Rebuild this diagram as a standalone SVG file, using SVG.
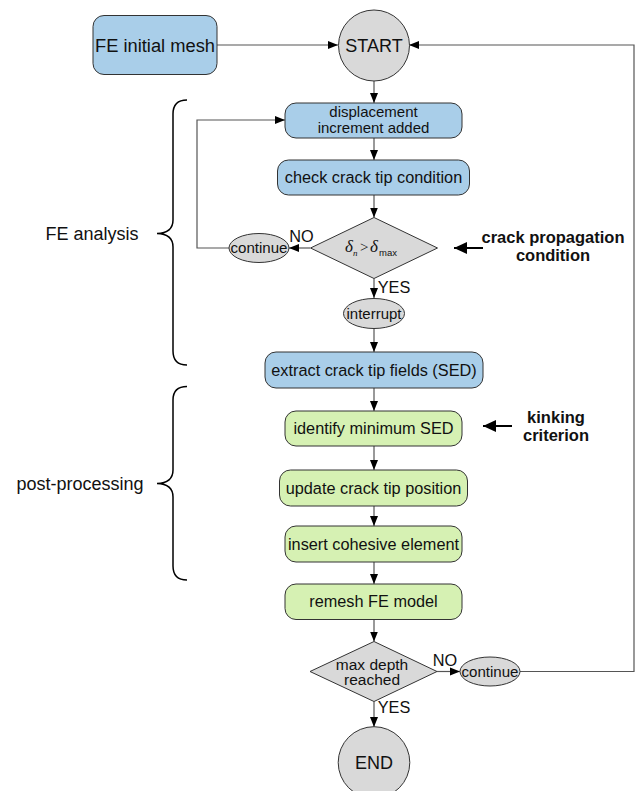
<svg xmlns="http://www.w3.org/2000/svg" width="636" height="791" viewBox="0 0 636 791">
<style>
.blue{fill:#a9cee9;stroke:#333;stroke-width:1}
.green{fill:#d6f1b3;stroke:#333;stroke-width:1}
.grey{fill:#d9d9d9;stroke:#333;stroke-width:1}
text{font-family:"Liberation Sans",Arial,sans-serif;fill:#111;text-anchor:middle}
.t16{font-size:16.3px}
.t15{font-size:15.5px}
.t18{font-size:18px}
.t14{font-size:15px}
.bold{font-size:16.5px;font-weight:bold}
.conn{fill:none;stroke:#555;stroke-width:1.2}
.brace{fill:none;stroke:#000;stroke-width:1.5}
.side{fill:none;stroke:#000;stroke-width:2}
.math{font-family:"Liberation Serif","Times New Roman",serif;font-style:italic}
</style>
<defs>
<marker id="arr" markerUnits="userSpaceOnUse" markerWidth="10" markerHeight="10" viewBox="0 0 10 10" refX="10" refY="5" orient="auto">
<path d="M0,1 L10,5 L0,9 Z" fill="#000"/>
</marker>
<marker id="arrBig" markerUnits="userSpaceOnUse" markerWidth="13" markerHeight="13" viewBox="0 0 13 13" refX="13" refY="6.5" orient="auto">
<path d="M0,0.5 L13,6.5 L0,12.5 Z" fill="#000"/>
</marker>
</defs>

<g id="connectors">
<path class="conn" d="M217,45 H338" marker-end="url(#arr)"/>
<path class="conn" d="M520,671.5 H634 V45 H409" marker-end="url(#arr)"/>
<path class="conn" d="M374,81 V103" marker-end="url(#arr)"/>
<path class="conn" d="M374,138 V160" marker-end="url(#arr)"/>
<path class="conn" d="M374,195 V217.5" marker-end="url(#arr)"/>
<path class="conn" d="M310,248 H289" marker-end="url(#arr)"/>
<path class="conn" d="M229,248 H197 V120 H285" marker-end="url(#arr)"/>
<path class="conn" d="M374,278.5 V298" marker-end="url(#arr)"/>
<path class="conn" d="M374,328.5 V352" marker-end="url(#arr)"/>
<path class="conn" d="M374,388 V411" marker-end="url(#arr)"/>
<path class="conn" d="M374,446 V470" marker-end="url(#arr)"/>
<path class="conn" d="M374,506 V526" marker-end="url(#arr)"/>
<path class="conn" d="M374,562 V584" marker-end="url(#arr)"/>
<path class="conn" d="M374,619.5 V641.5" marker-end="url(#arr)"/>
<path class="conn" d="M437,671.5 H460" marker-end="url(#arr)"/>
<path class="conn" d="M374,701.5 V727" marker-end="url(#arr)"/>
<path class="side" d="M483,248 H454" marker-end="url(#arrBig)"/>
<path class="side" d="M512,426 H483" marker-end="url(#arrBig)"/>
<text class="t16" x="301.5" y="242">NO</text>
<text class="t16" x="394" y="292.5">YES</text>
<text class="t16" x="445" y="665.5">NO</text>
<text class="t16" x="394" y="713">YES</text>
</g>

<g id="fe-initial-mesh">
<rect class="blue" x="93" y="15.5" width="124" height="59" rx="11"/>
<text class="t18" x="155" y="51.5" textLength="120" lengthAdjust="spacingAndGlyphs">FE initial mesh</text>
</g>

<g id="start">
<circle class="grey" cx="374" cy="45.5" r="35.5"/>
<text class="t18" x="374" y="51.5">START</text>
</g>

<g id="displacement">
<rect class="blue" x="285" y="103" width="177" height="35" rx="11"/>
<text class="t14" x="373.5" y="116.5">displacement</text>
<text class="t14" x="373.5" y="132.5">increment added</text>
</g>

<g id="check-crack">
<rect class="blue" x="277.5" y="160" width="192" height="35" rx="11"/>
<text class="t16" x="373.5" y="183">check crack tip condition</text>
</g>

<g id="crack-condition">
<polygon class="grey" points="374,217.5 437.5,248 374,278.5 310.5,248"/>
<text class="math" x="345" y="252" style="font-size:17px;text-anchor:start">δ</text>
<text class="math" x="353" y="255.5" style="font-size:9px;text-anchor:start">n</text>
<text x="360" y="252" style="font-family:'Liberation Serif',serif;font-size:15px;text-anchor:start">&gt;</text>
<text class="math" x="370" y="252" style="font-size:17px;text-anchor:start">δ</text>
<text x="379" y="255.5" style="font-size:9.5px;text-anchor:start">max</text>
</g>

<g id="continue-1">
<ellipse class="grey" cx="259" cy="248" rx="30" ry="14.5"/>
<text class="t14" x="259" y="253" textLength="57" lengthAdjust="spacingAndGlyphs">continue</text>
</g>

<g id="interrupt">
<ellipse class="grey" cx="374" cy="313.5" rx="30.5" ry="15"/>
<text class="t14" x="374" y="318.5" textLength="55" lengthAdjust="spacingAndGlyphs">interrupt</text>
</g>

<g id="extract">
<rect class="blue" x="265" y="352" width="218" height="36" rx="11"/>
<text class="t16" x="374" y="376">extract crack tip fields (SED)</text>
</g>

<g id="identify">
<rect class="green" x="285" y="411" width="177" height="35" rx="11"/>
<text class="t16" x="373.5" y="434">identify minimum SED</text>
</g>

<g id="update">
<rect class="green" x="279.5" y="470" width="188" height="36" rx="11"/>
<text class="t16" x="373.5" y="494">update crack tip position</text>
</g>

<g id="insert">
<rect class="green" x="285" y="526" width="177" height="36" rx="11"/>
<text class="t16" x="373.5" y="550">insert cohesive element</text>
</g>

<g id="remesh">
<rect class="green" x="285" y="584" width="177" height="35.5" rx="11"/>
<text class="t16" x="373.5" y="607">remesh FE model</text>
</g>

<g id="max-depth">
<polygon class="grey" points="374,641.5 437,671.5 374,701.5 310,671.5"/>
<text class="t15" x="372" y="669.5">max depth</text>
<text class="t15" x="372" y="685">reached</text>
</g>

<g id="continue-2">
<ellipse class="grey" cx="490" cy="671.5" rx="30" ry="14.5"/>
<text class="t14" x="490" y="676.5" textLength="57" lengthAdjust="spacingAndGlyphs">continue</text>
</g>

<g id="end">
<circle class="grey" cx="374" cy="762.5" r="35.8"/>
<text class="t18" x="374" y="768.5">END</text>
</g>

<g id="crack-propagation-label">
<text class="bold"><tspan x="553" y="242.5">crack propagation</tspan><tspan x="553" y="261">condition</tspan></text>
</g>

<g id="kinking-label">
<text class="bold"><tspan x="556" y="422.5">kinking</tspan><tspan x="556" y="441">criterion</tspan></text>
</g>

<g id="fe-analysis">
<path class="brace" d="M187,100 Q173,100 173,114 V220 Q173,233 157,233.5 Q173,234 173,247 V351 Q173,365 187,365"/>
<text class="t18" x="92" y="240">FE analysis</text>
</g>

<g id="post-processing">
<path class="brace" d="M187,386.5 Q173,386.5 173,400 V470 Q173,483 157,483.5 Q173,484 173,497 V566 Q173,580 187,580"/>
<text class="t18" x="80" y="490">post-processing</text>
</g>
</svg>
